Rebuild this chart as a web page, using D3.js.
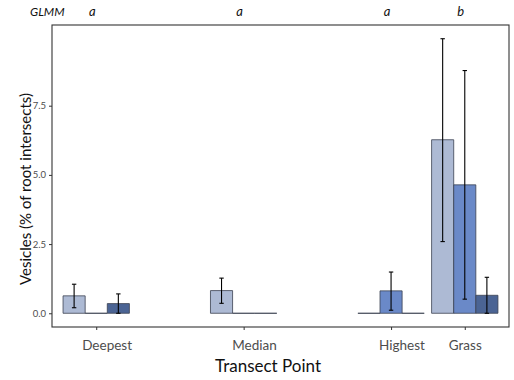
<!DOCTYPE html>
<html>
<head>
<meta charset="utf-8">
<script src="https://cdn.jsdelivr.net/npm/d3@7/dist/d3.min.js"></script>
<style>
  html, body { margin: 0; padding: 0; background: #fff; }
  svg { display: block; font-family: Lato, "Open Sans", sans-serif; }
</style>
</head>
<body>
<svg id="chart" width="514" height="380"></svg>
<script>
// Transect points, with two unlabeled spacer slots between the main points
const slots = ["Deepest", "gap1", "Median", "gap2", "Highest", "Grass"];
const points = ["Deepest", "Median", "Highest", "Grass"];
const pointLabels = ["\u00a0\u00a0\u00a0\u00a0\u00a0\u00a0Deepest", "\u00a0\u00a0\u00a0\u00a0\u00a0\u00a0Median", "\u00a0\u00a0\u00a0\u00a0\u00a0\u00a0Highest", "Grass"];
const glmmLetters = ["a", "a", "a", "b"];

// Three sampling series per transect point
const series = ["S1", "S2", "S3"];
const seriesColors = ["#adbad4", "#6a89c8", "#4b6494"];

// Mean vesicle colonisation (% of root intersects)
const meanS1 = [0.63, 0.82, 0.00, 6.27];
const meanS2 = [0.00, 0.00, 0.81, 4.64];
const meanS3 = [0.35, 0.00, 0.00, 0.65];
// Error bar limits
const lowS1 = [0.20, 0.36, 0.00, 2.59];
const lowS2 = [0.00, 0.00, 0.11, 0.51];
const lowS3 = [0.00, 0.00, 0.00, 0.00];
const highS1 = [1.05, 1.27, 0.00, 9.92];
const highS2 = [0.00, 0.00, 1.49, 8.77];
const highS3 = [0.70, 0.00, 0.00, 1.30];

const yTicks = [0, 2.5, 5, 7.5];

const means = [meanS1, meanS2, meanS3];
const lows = [lowS1, lowS2, lowS3];
const highs = [highS1, highS2, highS3];

const rows = [];
points.forEach((p, i) => {
  series.forEach((s, j) => {
    rows.push({ point: p, series: s, mean: means[j][i], low: lows[j][i], high: highs[j][i] });
  });
});

const panel = { left: 52, right: 509, top: 25, bottom: 327 };
const svg = d3.select("#chart");

const x = d3.scalePoint().domain(slots).range([panel.left, panel.right]).padding(0.6);
const step = x.step();
const barGroup = step * 0.9;
const xs = d3.scaleBand().domain(series).range([-barGroup / 2, barGroup / 2]).padding(0);

const yMax = d3.max(rows, d => d.high);
const pad = yMax * 0.05;
const y = d3.scaleLinear().domain([-pad, yMax + pad]).range([panel.bottom, panel.top]);

const color = d3.scaleOrdinal().domain(series).range(seriesColors);

// Bars (paths so zero-height bars still show their outline)
svg.append("g").selectAll("path").data(rows).join("path")
  .attr("d", d => {
    const x0 = x(d.point) + xs(d.series);
    const x1 = x0 + xs.bandwidth();
    const y0 = y(0), y1 = y(d.mean);
    return `M${x0},${y0}H${x1}V${y1}H${x0}Z`;
  })
  .attr("fill", d => color(d.series))
  .attr("stroke", "#3b4150")
  .attr("stroke-width", 0.8);

// Error bars
const capHalf = 2.2;
const eb = svg.append("g").attr("stroke", "#000").attr("stroke-width", 1.1)
  .selectAll("g").data(rows.filter(d => d.high > d.low)).join("g")
  .attr("transform", d => `translate(${x(d.point) + xs(d.series) + xs.bandwidth() / 2},0)`);
eb.append("line").attr("y1", d => y(d.low)).attr("y2", d => y(d.high));
eb.append("line").attr("x1", -capHalf).attr("x2", capHalf).attr("y1", d => y(d.low)).attr("y2", d => y(d.low));
eb.append("line").attr("x1", -capHalf).attr("x2", capHalf).attr("y1", d => y(d.high)).attr("y2", d => y(d.high));

// Panel border
svg.append("rect")
  .attr("x", panel.left).attr("y", panel.top)
  .attr("width", panel.right - panel.left).attr("height", panel.bottom - panel.top)
  .attr("fill", "none").attr("stroke", "#333").attr("stroke-width", 1.1);

// Y axis
const yAxis = d3.axisLeft(y).tickValues(yTicks).tickFormat(d3.format(".1f")).tickSize(3).tickPadding(3);
const gy = svg.append("g").attr("transform", `translate(${panel.left},0)`).call(yAxis);
gy.select(".domain").remove();
gy.selectAll(".tick line").attr("stroke", "#333");
gy.selectAll(".tick text").attr("fill", "#4d4d4d").style("font-size", "9.5px").style("font-family", "Lato, sans-serif");

// X axis
const labelOf = d3.scaleOrdinal().domain(points).range(pointLabels);
const xAxis = d3.axisBottom(x).tickValues(points).tickFormat(d => labelOf(d)).tickSize(3).tickPadding(10);
const gx = svg.append("g").attr("transform", `translate(0,${panel.bottom})`).call(xAxis);
gx.select(".domain").remove();
gx.selectAll(".tick line").attr("stroke", "#333");
gx.selectAll(".tick text").attr("fill", "#4d4d4d").style("font-size", "13.5px").style("font-family", "Lato, sans-serif");

// Axis titles
svg.append("text")
  .attr("x", 268).attr("y", 372)
  .attr("text-anchor", "middle")
  .style("font-size", "17px").attr("fill", "#111")
  .text("Transect Point");

svg.append("text")
  .attr("transform", "translate(31,189) rotate(-90)")
  .attr("text-anchor", "middle")
  .style("font-size", "15px").attr("fill", "#111")
  .text("Vesicles (% of root intersects)");

// GLMM significance letters
svg.append("text")
  .attr("x", 30).attr("y", 16)
  .style("font-size", "12px").style("font-style", "italic").attr("fill", "#111")
  .text("GLMM");

svg.append("g").selectAll("text").data(points).join("text")
  .attr("x", d => x(d) - 4).attr("y", 16)
  .attr("text-anchor", "middle")
  .style("font-size", "13px").style("font-style", "italic").attr("fill", "#111")
  .text((d, i) => glmmLetters[i]);
</script>
</body>
</html>
